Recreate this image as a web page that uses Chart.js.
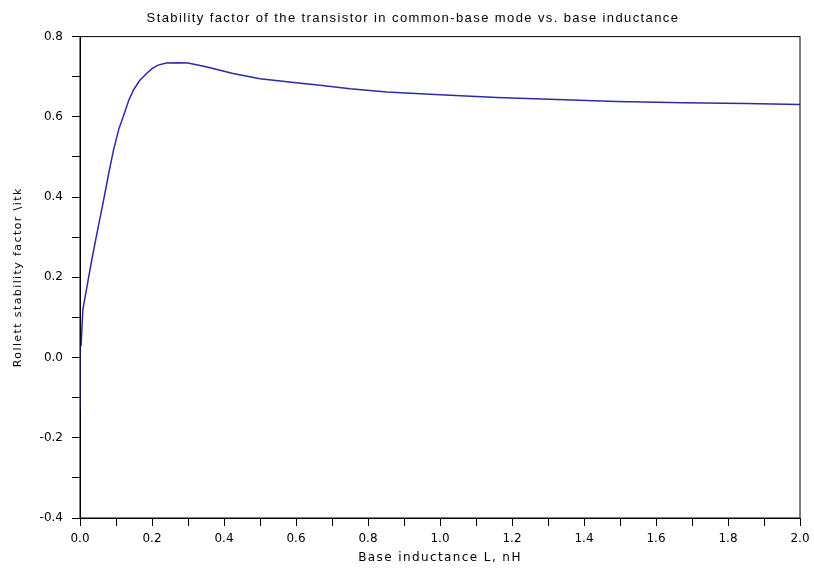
<!DOCTYPE html>
<html>
<head>
<meta charset="utf-8">
<script src="https://cdn.jsdelivr.net/npm/chart.js@4/dist/chart.umd.min.js"></script>
<style>
  html, body { margin: 0; padding: 0; background: #fff; }
  #wrap { width: 814px; height: 571px; }
</style>
</head>
<body>
<div id="wrap"><canvas id="stabilityChart" width="814" height="571"></canvas></div>
<script>
// Base inductance L (nH) and Rollett stability factor k
const inductance = [0.000, 0.000, 0.003, 0.008, 0.014, 0.022, 0.032, 0.045, 0.065, 0.080, 0.093, 0.108,
    0.120, 0.135, 0.148, 0.165, 0.185, 0.200, 0.217, 0.240, 0.270, 0.300, 0.350, 0.425, 0.500,
    0.600, 0.667, 0.750, 0.852, 1.000, 1.158, 1.325, 1.490, 1.675, 1.850, 2.000];
const stability = [-0.130, 0.030, 0.030, 0.120, 0.150, 0.190, 0.240, 0.300, 0.390, 0.460, 0.517, 0.570,
    0.600, 0.640, 0.666, 0.690, 0.708, 0.720, 0.729, 0.734, 0.735, 0.734, 0.725, 0.708, 0.695,
    0.685, 0.679, 0.670, 0.662, 0.655, 0.648, 0.643, 0.638, 0.635, 0.633, 0.631];

// Axis ranges and tick steps
const xRange = [0, 2];
const yRange = [-0.4, 0.8];
const xTickStep = 0.1;
const yTickStep = 0.1;

const points = inductance.map((x, i) => ({ x: x, y: stability[i] }));

// Titles are letter-spaced in the original; tick labels are not
// (tick labels have z: 1 so they are drawn after the datasets, with spacing reset)
const spacedText = {
    id: 'spacedText',
    beforeDraw(chart) {
        chart.ctx.letterSpacing = '1.4px';
    },
    beforeDatasetsDraw(chart) {
        chart.ctx.letterSpacing = '0px';
    }
};

// Draws the top and right edges of the box around the plot
const frameBox = {
    id: 'frameBox',
    afterDraw(chart) {
        const { ctx, chartArea } = chart;
        ctx.save();
        ctx.strokeStyle = '#000';
        ctx.lineWidth = 1;
        ctx.strokeRect(chartArea.left, chartArea.top, chartArea.right - chartArea.left, chartArea.bottom - chartArea.top);
        ctx.restore();
    }
};

// Only every second tick gets a label
function majorLabel(value) {
    const n = Math.round(value * 10);
    return n % 2 === 0 ? (n / 10).toFixed(1) : '';
}

const config = {
    type: 'scatter',
    data: {
        datasets: [{
            data: points,
            showLine: true,
            borderColor: '#2b2ba6',
            borderWidth: 1.5,
            pointRadius: 0,
            tension: 0
        }]
    },
    options: {
        responsive: false,
        animation: false,
        layout: { padding: { left: 12, right: 0, top: 0, bottom: 0 } },
        plugins: {
            legend: { display: false },
            tooltip: { enabled: false },
            title: {
                display: true,
                text: 'Stability factor of the transistor in common-base mode vs. base inductance',
                color: '#000',
                font: { family: 'Liberation Sans', size: 13, weight: 'normal' },
                padding: { top: 11, bottom: 10 }
            }
        },
        scales: {
            x: {
                type: 'linear',
                min: xRange[0],
                max: xRange[1],
                afterFit(scale) {
                    scale.height = 53;
                    scale.paddingLeft = 0;
                    scale.paddingRight = 14;
                },
                ticks: {
                    stepSize: xTickStep,
                    autoSkip: false,
                    maxRotation: 0,
                    color: '#000',
                    padding: 6,
                    z: 1,
                    font: { family: 'DejaVu Sans', size: 12 },
                    callback: majorLabel
                },
                grid: { drawOnChartArea: false, color: '#000', tickLength: 8, tickColor: '#000' },
                border: { color: '#000', width: 1 },
                title: {
                    display: true,
                    text: 'Base inductance L, nH',
                    color: '#000',
                    font: { family: 'DejaVu Sans', size: 12 },
                    padding: { top: 0, bottom: 6 }
                }
            },
            y: {
                type: 'linear',
                min: yRange[0],
                max: yRange[1],
                afterFit(scale) { scale.width = 68; },
                ticks: {
                    stepSize: yTickStep,
                    autoSkip: false,
                    color: '#000',
                    padding: 9,
                    z: 1,
                    font: { family: 'DejaVu Sans', size: 12 },
                    callback: majorLabel
                },
                grid: { drawOnChartArea: false, color: '#000', tickLength: 8, tickColor: '#000' },
                border: { color: '#000', width: 1 },
                title: {
                    display: true,
                    text: 'Rollett stability factor \\itk',
                    color: '#000',
                    font: { family: 'DejaVu Sans', size: 11 },
                    padding: { top: 0, bottom: 0 }
                }
            }
        }
    },
    plugins: [spacedText, frameBox]
};

new Chart(document.getElementById('stabilityChart'), config);
</script>
</body>
</html>
